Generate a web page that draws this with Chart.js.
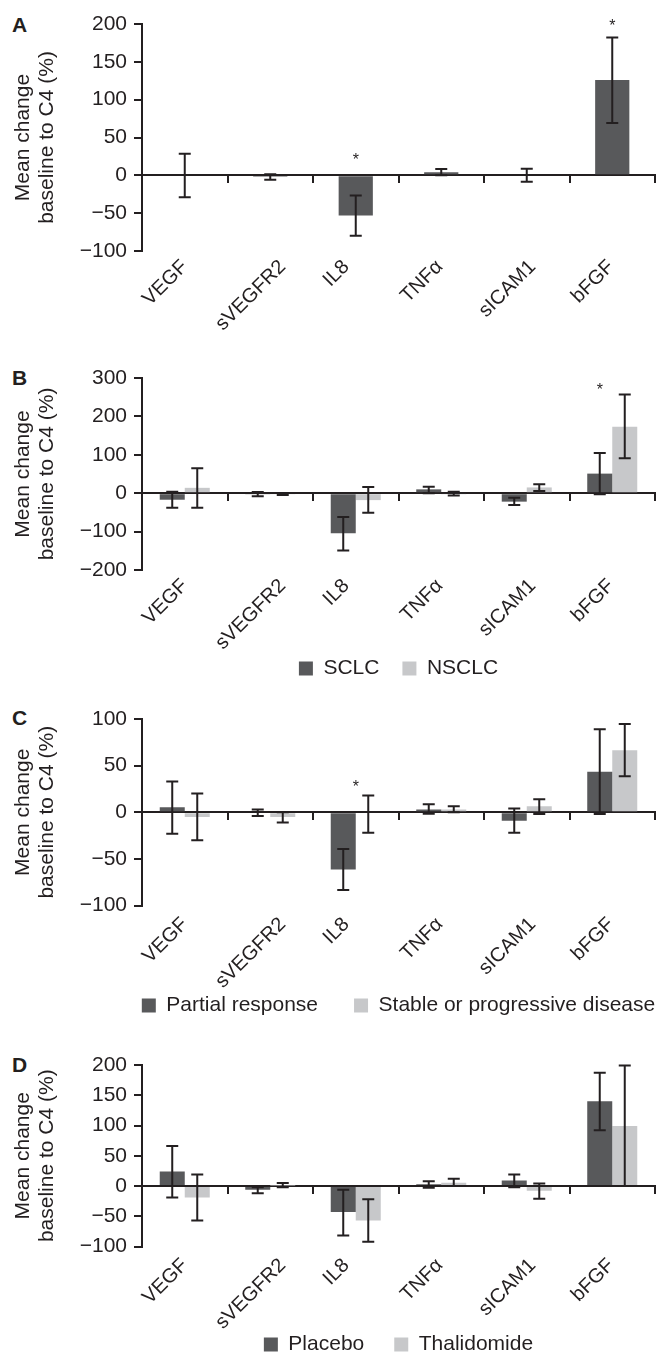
<!DOCTYPE html>
<html>
<head>
<meta charset="utf-8">
<script src="https://cdn.jsdelivr.net/npm/chart.js@4.4.1/dist/chart.umd.min.js"></script>
<style>
html,body{margin:0;padding:0;width:660px;height:1356px;overflow:hidden;background:#fff;}
canvas{position:absolute;left:0;}
.letter{position:absolute;left:12px;font:bold 21px "Liberation Sans",Arial,sans-serif;line-height:21px;color:#231f20;}
</style>
</head>
<body>
<div class="letter" style="top:14px">A</div>
<div class="letter" style="top:367px">B</div>
<div class="letter" style="top:707px">C</div>
<div class="letter" style="top:1054px">D</div>
<canvas id="cA" width="797" height="345" style="top:0px"></canvas>
<canvas id="cB" width="797" height="344" style="top:345px"></canvas>
<canvas id="cC" width="797" height="337" style="top:689px"></canvas>
<canvas id="cD" width="797" height="339" style="top:1026px"></canvas>
<script>
// ---------- data ----------
const categories = ['VEGF', 'sVEGFR2', 'IL8', 'TNFα', 'sICAM1', 'bFGF'];

// Panel A (all patients)
const ticksA = [-100, -50, 0, 50, 100, 150, 200];
const meanA = [0, -2, -53, 4, 0, 126];
const hiA = [28.6, 1.3, -26.5, 8.4, 8.8, 182];
const loA = [-29, -5.7, -80, 0, -8.4, 69];
const starsA = [{cat: 'IL8', value: 25}, {cat: 'bFGF', value: 202}];

// Panel B (SCLC vs NSCLC)
const ticksB = [-200, -100, 0, 100, 200, 300];
const sclc = [-17, -3, -104, 10, -22, 51];
const sclcHi = [4, 3, -62, 17, -12, 105];
const sclcLo = [-38, -8, -149, 0, -31, -3];
const nsclc = [14, -3, -18, -2, 15, 173];
const nsclcHi = [65, -1, 16, 4, 23, 257];
const nsclcLo = [-38, -5, -51, -6, 6, 91];
const starsB = [{cat: 'bFGF', value: 279, series: 0}];

// Panel C (response)
const ticksC = [-100, -50, 0, 50, 100];
const partial = [5.4, 1, -61.5, 3, -9, 43.5];
const partialHi = [33, 3, -39.5, 8.6, 4, 89];
const partialLo = [-23, -4, -83.5, -1.5, -22, -2];
const stable = [-5, -5, -1, 3, 6.5, 66.5];
const stableHi = [20, 0, 18, 6.5, 14, 94.6];
const stableLo = [-30, -11, -22, 0, -2, 38.5];
const starsC = [{cat: 'IL8', value: 31}];

// Panel D (treatment arm)
const ticksD = [-100, -50, 0, 50, 100, 150, 200];
const placebo = [24, -6, -43, 3, 9, 140];
const placeboHi = [66, -2, -6, 8, 19, 187];
const placeboLo = [-19, -12, -82, -3, -2, 92];
const thal = [-19, 1, -57, 5.5, -8, 99];
const thalHi = [19, 5, -22, 12, 4, 199];
const thalLo = [-57, -2, -92, 0, -21, 0];

// ---------- styling ----------
const TXT = '#231f20';
const DARK = '#58595b';
const LIGHT = '#c7c8ca';
const FONT = '"Liberation Sans", Arial, Helvetica, sans-serif';

const errorBars = {
  id: 'errorBars',
  afterDatasetsDraw(chart) {
    const ctx = chart.ctx, ys = chart.scales.y;
    chart.data.datasets.forEach((ds, i) => {
      const meta = chart.getDatasetMeta(i);
      meta.data.forEach((bar, j) => {
        const hi = ds.errHi[j], lo = ds.errLo[j];
        if (hi == null || lo == null) return;
        const x = bar.x, y1 = ys.getPixelForValue(hi), y2 = ys.getPixelForValue(lo);
        ctx.save();
        ctx.strokeStyle = TXT; ctx.lineWidth = 2;
        ctx.beginPath();
        ctx.moveTo(x, y1); ctx.lineTo(x, y2);
        ctx.moveTo(x - 6, y1); ctx.lineTo(x + 6, y1);
        ctx.moveTo(x - 6, y2); ctx.lineTo(x + 6, y2);
        ctx.stroke();
        ctx.restore();
      });
    });
  }
};

const stars = {
  id: 'stars',
  afterDraw(chart, args, opts) {
    const items = opts.items || [];
    const ctx = chart.ctx, xs = chart.scales.x, ys = chart.scales.y;
    ctx.save();
    ctx.fillStyle = TXT;
    ctx.font = '16px ' + FONT;
    ctx.textAlign = 'center';
    ctx.textBaseline = 'alphabetic';
    items.forEach(it => {
      const idx = chart.data.labels.indexOf(it.cat);
      let x = xs.getPixelForValue(idx);
      if (it.series != null) x = chart.getDatasetMeta(it.series).data[idx].x;
      const y = ys.getPixelForValue(it.value);
      ctx.fillText('*', x, y + 9);
    });
    ctx.restore();
  }
};

// rotated category labels, centred a little left of each category, top edge aligned
const catLabels = {
  id: 'catLabels',
  afterDraw(chart, args, opts) {
    const ctx = chart.ctx, xs = chart.scales.x, area = chart.chartArea;
    const size = 20, capH = 0.716 * size;
    ctx.save();
    ctx.font = size + 'px ' + FONT;
    ctx.fillStyle = TXT;
    ctx.textAlign = 'center';
    ctx.textBaseline = 'middle';
    chart.data.labels.forEach((lab, i) => {
      const L = ctx.measureText(lab).width;
      const half = (L / 2 + capH / 2) * Math.SQRT1_2;
      const cx = xs.getPixelForValue(i) + opts.dx;
      const cy = area.bottom + opts.top + half;
      ctx.save();
      ctx.translate(cx, cy);
      ctx.rotate(-Math.PI / 4);
      ctx.fillText(lab, 0, 1);
      ctx.restore();
    });
    ctx.restore();
  }
};

const fmt = v => (v < 0 ? '\u2212' + Math.abs(v) : String(v));

function panel(id, o) {
  const datasets = o.series.map(s => ({
    label: s.label, data: s.data, errHi: s.hi, errLo: s.lo,
    backgroundColor: s.color, borderWidth: 0,
    categoryPercentage: o.catPct, barPercentage: 1,
    xAxisID: 'x', yAxisID: 'y'
  }));
  const t = o.ticks;
  return new Chart(document.getElementById(id), {
    type: 'bar',
    data: {labels: categories, datasets},
    plugins: [errorBars, stars, catLabels],
    options: {
      responsive: false, animation: false, devicePixelRatio: 1,
      layout: {padding: {top: o.padTop, left: 0, right: 0, bottom: 0}},
      plugins: {
        legend: {display: o.legend, position: 'bottom', align: 'center',
          labels: {boxWidth: 14, boxHeight: 14, padding: o.legendPad || 10, color: TXT,
                   font: {family: FONT, size: 21}}},
        tooltip: {enabled: false},
        stars: {items: o.stars || []},
        catLabels: {dx: -20, top: o.labelTop}
      },
      scales: {
        x: {type: 'category', position: 'bottom', offset: true,
            grid: {display: false}, border: {display: false},
            ticks: {display: false},
            afterFit: s => { s.height = o.xHeight; }},
        x2: {type: 'category', labels: categories, position: {y: 0}, offset: true, z: 1,
             grid: {display: true, offset: true, drawOnChartArea: false, drawTicks: true,
                    tickLength: 7, color: TXT, lineWidth: 2},
             border: {display: true, color: TXT, width: 2},
             ticks: {display: false}},
        y: {type: 'linear', position: 'left', min: t[0], max: t[t.length - 1],
            ticks: {stepSize: t[1] - t[0], padding: 7, color: TXT,
                    font: {family: FONT, size: 21}, callback: v => fmt(v)},
            grid: {drawOnChartArea: false, drawTicks: true, tickLength: 8, color: TXT, lineWidth: 2},
            border: {display: true, color: TXT, width: 2},
            title: {display: true, text: ['Mean change', 'baseline to C4 (%)'], color: TXT,
                    font: {family: FONT, size: 21, lineHeight: 1.15}, padding: {top: 11, bottom: 0}},
            afterFit: s => { s.width = 142; }},
        yR: {type: 'linear', position: 'right', display: true,
             grid: {display: false}, border: {display: false}, ticks: {display: false},
             afterFit: s => { s.width = 142; }}
      }
    }
  });
}

panel('cA', {ticks: ticksA, padTop: 24, xHeight: 94, labelTop: 7, legend: false, catPct: 0.4, stars: starsA,
  series: [{label: 'All', data: meanA, hi: hiA, lo: loA, color: DARK}]});
panel('cB', {ticks: ticksB, padTop: 33, xHeight: 65, labelTop: 7, legend: true, legendPad: 23, catPct: 0.585, stars: starsB,
  series: [{label: 'SCLC', data: sclc, hi: sclcHi, lo: sclcLo, color: DARK},
           {label: 'NSCLC', data: nsclc, hi: nsclcHi, lo: nsclcLo, color: LIGHT}]});
panel('cC', {ticks: ticksC, padTop: 30, xHeight: 53.5, labelTop: 10, legend: true, legendPad: 36, catPct: 0.585, stars: starsC,
  series: [{label: 'Partial response', data: partial, hi: partialHi, lo: partialLo, color: DARK},
           {label: 'Stable or progressive disease', data: stable, hi: stableHi, lo: stableLo, color: LIGHT}]});
panel('cD', {ticks: ticksD, padTop: 39, xHeight: 57.5, labelTop: 10, legend: true, legendPad: 30, catPct: 0.585, stars: [],
  series: [{label: 'Placebo', data: placebo, hi: placeboHi, lo: placeboLo, color: DARK},
           {label: 'Thalidomide', data: thal, hi: thalHi, lo: thalLo, color: LIGHT}]});
</script>
</body>
</html>
